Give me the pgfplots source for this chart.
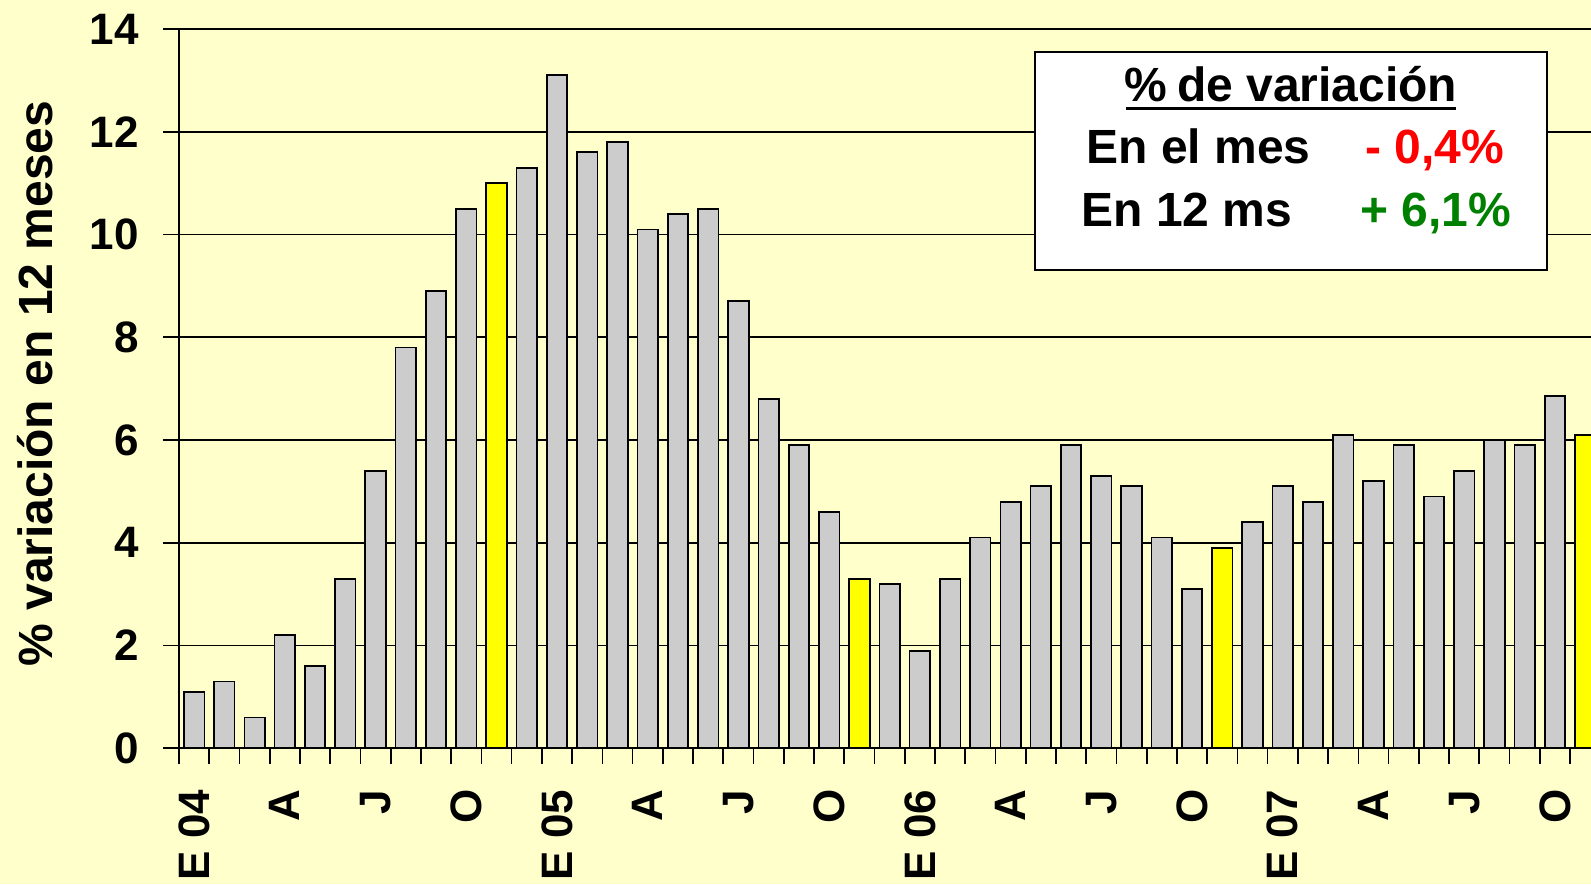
\documentclass[border=0pt]{standalone}
\usepackage{pgfplots}
\pgfplotsset{compat=1.18}
\usepackage{fontspec}
\setmainfont{Liberation Sans}
\definecolor{bgy}{HTML}{FFFFCC}
\definecolor{barg}{HTML}{CCCCCC}
\definecolor{bary}{HTML}{FFFF00}
\definecolor{grn}{HTML}{008000}
\begin{document}
\begin{tikzpicture}[x=1pt,y=1pt]
\fill[bgy] (0,0) rectangle (795.5,442);
\begin{scope}
\clip (0,0) rectangle (795.5,442);
\begin{axis}[
  at={(89.5pt,67.85pt)}, anchor=south west,
  x=15.12pt, y=25.69pt,
  xmin=0.5, xmax=47.5, ymin=0, ymax=14,
  axis line style={line width=0.85pt, black},
  tick align=outside, tick pos=left,
  major tick length=8pt, minor tick length=8pt,
  tick style={line width=0.85pt, black},
  minor tick style={line width=0.85pt, black},
  xtick={1,4,...,46},
  xticklabels={E 04,A,J,O,E 05,A,J,O,E 06,A,J,O,E 07,A,J,O},
  minor xtick={0.5,1.5,...,47.5},
  major x tick style={draw=none},
  ytick={0,2,...,14},
  ymajorgrids, grid style={line width=0.85pt, black},
  /pgf/number format/assume math mode=true,
  tick label style={font=\bfseries\fontsize{22}{22}\selectfont, inner sep=0pt},
  xticklabel style={yshift=-12.5pt, rotate=90, anchor=east},
  yticklabel style={xshift=-12pt, anchor=east},
  ylabel={\% variación en 12 meses},
  ylabel style={at={(axis description cs:-0.101,0.507)}, anchor=center, font=\bfseries\fontsize{24}{24}\selectfont},
]
\addplot[ybar, bar width=10.25pt, fill=barg, draw=black, line width=0.85pt] coordinates {
(1,1.1) (2,1.3) (3,0.6) (4,2.2) (5,1.6) (6,3.3) (7,5.4) (8,7.8) (9,8.9) (10,10.5)
(12,11.3) (13,13.1) (14,11.6) (15,11.8) (16,10.1) (17,10.4) (18,10.5) (19,8.7) (20,6.8) (21,5.9) (22,4.6)
(24,3.2) (25,1.9) (26,3.3) (27,4.1) (28,4.8) (29,5.1) (30,5.9) (31,5.3) (32,5.1) (33,4.1) (34,3.1)
(36,4.4) (37,5.1) (38,4.8) (39,6.1) (40,5.2) (41,5.9) (42,4.9) (43,5.4) (44,6.0) (45,5.9) (46,6.85)
};
\addplot[ybar, bar width=10.25pt, fill=bary, draw=black, line width=0.85pt] coordinates {
(11,11.0) (23,3.3) (35,3.9) (47,6.1)
};
\end{axis}
\draw[line width=0.9pt, fill=white] (517.5,307) rectangle (773.5,416);
\node[anchor=base, inner sep=0pt, font=\bfseries\fontsize{24}{24}\selectfont] at (645.5,391.25) {\%\hspace{0.2em}de variación};
\draw[line width=1.8pt] (563,387.7) -- (728,387.7);
\node[anchor=base west, inner sep=0pt, font=\bfseries\fontsize{24}{24}\selectfont] at (543,360) {En el mes};
\node[anchor=base west, inner sep=0pt, text=red, font=\bfseries\fontsize{24}{24}\selectfont] at (682.5,360) {- 0,4\%};
\node[anchor=base west, inner sep=0pt, font=\bfseries\fontsize{24}{24}\selectfont] at (540.5,328.5) {En 12 ms};
\node[anchor=base west, inner sep=0pt, text=grn, font=\bfseries\fontsize{24}{24}\selectfont] at (680,328.5) {+ 6,1\%};
\end{scope}
\pgfresetboundingbox
\useasboundingbox (0,0) rectangle (795.5,442);
\end{tikzpicture}
\end{document}
